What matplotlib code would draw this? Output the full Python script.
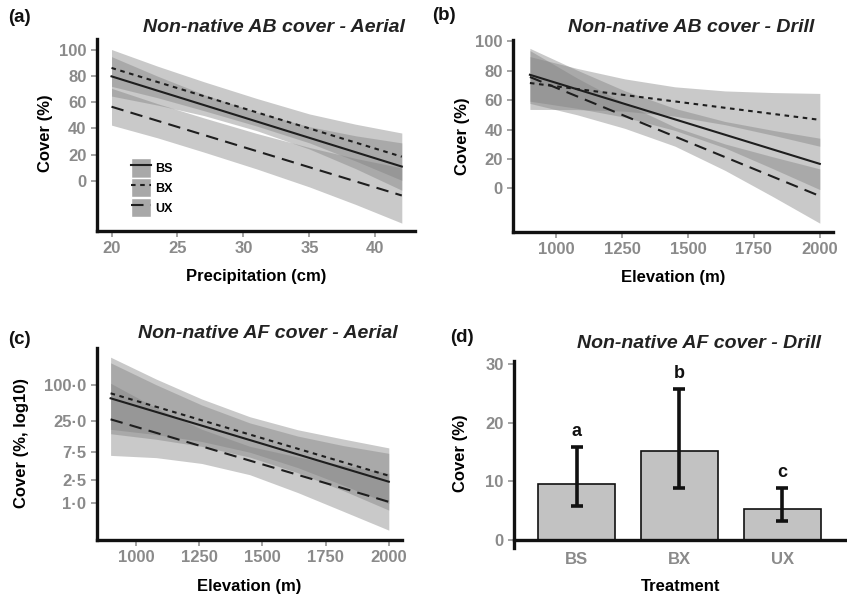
import numpy as np
import matplotlib
matplotlib.use("Agg")
import matplotlib.pyplot as plt
from matplotlib.lines import Line2D
from matplotlib.patches import Patch
from matplotlib.ticker import FixedLocator, FixedFormatter, NullLocator

plt.rcParams["font.family"] = ["Liberation Sans", "DejaVu Sans"]
plt.rcParams["font.weight"] = "bold"

# ---------------------------------------------------------------- data
TREAT = ["BS", "BX", "UX"]

# (a) precipitation vs cover: fitted lines (ends) + confidence bands
prec_x = [20, 42]
prec_bs = [79.6, 11.0]
prec_bx = [86.0, 18.5]
prec_ux = [56.5, -11.0]
prec_band_x = [20, 23.5, 27, 31, 35, 38.5, 42]
prec_bs_lo = [64.6, 57.7, 49.8, 38.3, 24.3, 9.4, -7.0]
prec_bs_hi = [94.6, 79.7, 65.8, 52.3, 41.3, 34.4, 29.0]
prec_bx_lo = [72.0, 63.3, 53.5, 41.8, 29.0, 15.2, 0.5]
prec_bx_hi = [100.0, 87.3, 75.5, 62.8, 51.0, 43.2, 36.5]
prec_ux_lo = [42.5, 32.8, 22.0, 9.2, -4.5, -17.8, -32.0]
prec_ux_hi = [70.5, 58.8, 48.0, 36.2, 25.5, 17.2, 10.0]

# (b) elevation vs AB cover (drill)
elev_x = [900, 2000]
elev_band_x = [900, 1080, 1260, 1450, 1640, 1820, 2000]
drill_bs = [77.3, 16.6]
drill_bx = [71.7, 46.6]
drill_ux = [75.8, -5.3]
drill_bs_lo = [59.3, 54.4, 48.4, 39.4, 27.5, 13.5, -0.9]
drill_bs_hi = [95.3, 80.4, 66.4, 54.4, 45.5, 39.5, 34.1]
drill_bx_lo = [53.7, 53.6, 52.5, 49.1, 43.3, 36.2, 28.6]
drill_bx_hi = [89.7, 81.6, 74.5, 69.1, 66.3, 65.2, 64.6]
drill_ux_lo = [57.8, 50.0, 40.8, 28.7, 12.2, -5.5, -23.8]
drill_ux_hi = [93.8, 75.0, 57.8, 41.7, 30.2, 21.5, 13.2]

# (c) elevation vs AF cover (aerial), log10 axis
aer_bs = [59.6, 2.32]
aer_bx = [72.4, 2.93]
aer_ux = [26.3, 1.06]
aer_bs_lo = [15.0, 12.1, 9.18, 6.03, 3.29, 1.64, 0.767]
aer_bs_hi = [237, 101, 46.0, 22.9, 13.7, 9.46, 7.0]
aer_bx_lo = [17.8, 14.5, 11.1, 7.31, 4.01, 2.02, 0.99]
aer_bx_hi = [295, 126, 58.1, 29.1, 17.5, 12.2, 8.65]
aer_ux_lo = [6.46, 5.92, 4.72, 3.05, 1.52, 0.733, 0.352]
aer_ux_hi = [107, 40.9, 17.9, 9.2, 6.07, 4.42, 3.21]
log_ticks = [1.0, 2.5, 7.5, 25.0, 100.0]
log_labels = ["1·0", "2·5", "7·5", "25·0", "100·0"]

# (d) AF cover drill, bars with intervals
af_mean = [9.5, 15.1, 5.2]
af_lo = [5.7, 8.8, 3.2]
af_hi = [15.9, 25.7, 8.9]
af_letters = ["a", "b", "c"]

TICK_C = "#8a8a8a"
LINE_C = "#1e1e1e"
BAND_C = "#7f7f7f"
STYLES = {"BS": "-", "BX": (0, (2.2, 2.2)), "UX": (0, (6, 3.5))}
TICK_FS = 12
LAB_FS = 12

fig = plt.figure(figsize=(8.47, 6.0), dpi=100)


def style_axes(ax):
    for s in ("top", "right"):
        ax.spines[s].set_visible(False)
    for s in ("left", "bottom"):
        ax.spines[s].set_linewidth(2.4)
        ax.spines[s].set_color("#111111")
    ax.tick_params(colors=TICK_C, labelcolor=TICK_C, labelsize=TICK_FS, length=4.5,
                   width=1.1, pad=3)
    ax.set_facecolor("none")


def labels(ax, xl, yl, xy, yy):
    ax.set_xlabel(xl, fontsize=LAB_FS, fontweight="bold")
    ax.set_ylabel(yl, fontsize=LAB_FS, fontweight="bold")
    ax.xaxis.set_label_coords(*xy)
    ax.yaxis.set_label_coords(*yy)
    ax.xaxis.label.set_va("center")
    ax.yaxis.label.set_va("center")


def draw_fits(ax, xl, xb, lines, bands):
    for name in TREAT:
        lo, hi = bands[name]
        ax.fill_between(xb, lo, hi, color=BAND_C, alpha=0.42, lw=0)
    for name, ys in zip(TREAT, lines):
        ax.plot(xl, ys, color=LINE_C, lw=1.5, ls=STYLES[name])


# ---------------------------------------------------------------- (a)
axa = fig.add_axes([97 / 847, 1 - 231 / 600, 318 / 847, 192 / 600])
style_axes(axa)
draw_fits(axa, prec_x, prec_band_x, [prec_bs, prec_bx, prec_ux],
          {"BS": (prec_bs_lo, prec_bs_hi), "BX": (prec_bx_lo, prec_bx_hi),
           "UX": (prec_ux_lo, prec_ux_hi)})
axa.set_xlim(18.9, 43)
axa.set_ylim(-38, 108)
axa.set_xticks([20, 25, 30, 35, 40])
axa.set_yticks([0, 20, 40, 60, 80, 100])
labels(axa, "Precipitation (cm)", "Cover (%)", (0.5, -0.238), (-0.163, 0.51))
handles = [(Patch(facecolor="#a8a8a8", edgecolor="white", lw=1.0),
            Line2D([], [], color=LINE_C, lw=1.5, ls=STYLES[t])) for t in TREAT]
axa.legend(handles, TREAT, loc="center left", bbox_to_anchor=(0.08, 0.225),
           frameon=False, handlelength=1.6, handleheight=2.0,
           labelspacing=0.05, handletextpad=0.35, borderpad=0.2,
           prop={"weight": "bold", "size": 9})

# ---------------------------------------------------------------- (b)
axb = fig.add_axes([513.3 / 847, 1 - 231.7 / 600, 319.7 / 847, 191.7 / 600])
style_axes(axb)
draw_fits(axb, elev_x, elev_band_x, [drill_bs, drill_bx, drill_ux],
          {"BS": (drill_bs_lo, drill_bs_hi), "BX": (drill_bx_lo, drill_bx_hi),
           "UX": (drill_ux_lo, drill_ux_hi)})
axb.set_xlim(837, 2050)
axb.set_ylim(-29.6, 101)
axb.set_xticks([1000, 1250, 1500, 1750, 2000])
axb.set_yticks([0, 20, 40, 60, 80, 100])
labels(axb, "Elevation (m)", "Cover (%)", (0.5, -0.2415), (-0.16, 0.496))

# ---------------------------------------------------------------- (c)
axc = fig.add_axes([96.7 / 847, 1 - 540 / 600, 305 / 847, 192.3 / 600])
style_axes(axc)
axc.set_yscale("log")
draw_fits(axc, elev_x, elev_band_x, [aer_bs, aer_bx, aer_ux],
          {"BS": (aer_bs_lo, aer_bs_hi), "BX": (aer_bx_lo, aer_bx_hi),
           "UX": (aer_ux_lo, aer_ux_hi)})
axc.set_xlim(845, 2051)
axc.set_ylim(0.24, 427)
axc.set_xticks([1000, 1250, 1500, 1750, 2000])
axc.yaxis.set_major_locator(FixedLocator(log_ticks))
axc.yaxis.set_major_formatter(FixedFormatter(log_labels))
axc.yaxis.set_minor_locator(NullLocator())
labels(axc, "Elevation (m)", "Cover (%, log10)", (0.5, -0.243), (-0.246, 0.504))

# ---------------------------------------------------------------- (d)
axd = fig.add_axes([514 / 847, 1 - 548 / 600, 333 / 847, 187 / 600])
style_axes(axd)
xpos = np.arange(len(TREAT))
axd.bar(xpos, af_mean, width=0.75, color="#c2c2c2", edgecolor="#111111", lw=1.2,
        zorder=2)
yerr = [np.array(af_mean) - np.array(af_lo), np.array(af_hi) - np.array(af_mean)]
axd.errorbar(xpos, af_mean, yerr=yerr, fmt="none", ecolor="#111111", elinewidth=2.6,
             capsize=4, capthick=2.6, zorder=3)
for x, top, s in zip(xpos, af_hi, af_letters):
    axd.text(x, top + 1.2, s, ha="center", va="bottom", fontsize=13,
             fontweight="bold", color="#111111")
axd.spines["bottom"].set_position(("data", 0))
axd.set_xlim(-0.61, 2.63)
axd.set_ylim(-1.4, 30.5)
axd.set_xticks(xpos)
axd.set_xticklabels(TREAT)
axd.tick_params(axis="x", length=0, pad=9)
axd.set_yticks([0, 10, 20, 30])
labels(axd, "Treatment", "Cover (%)", (0.5, -0.207), (-0.16, 0.508))

# ---------------------------------------------------------------- titles
TITLES = [("(a)", 8, 17, "Non-native AB cover - Aerial", 405, 27),
          ("(b)", 432, 15, "Non-native AB cover - Drill", 814, 27),
          ("(c)", 8, 340, "Non-native AF cover - Aerial", 398, 333),
          ("(d)", 450, 338, "Non-native AF cover - Drill", 821, 343)]
for lab, lx, ly, title, tx, ty in TITLES:
    fig.text(lx / 847, 1 - ly / 600, lab, ha="left", va="center", fontsize=13.5,
             fontweight="bold", color="#111111")
    fig.text(tx / 847, 1 - ty / 600, title, ha="right", va="center", fontsize=14,
             fontweight="bold", fontstyle="italic", color="#222222")

fig.savefig("out.png", dpi=100)
